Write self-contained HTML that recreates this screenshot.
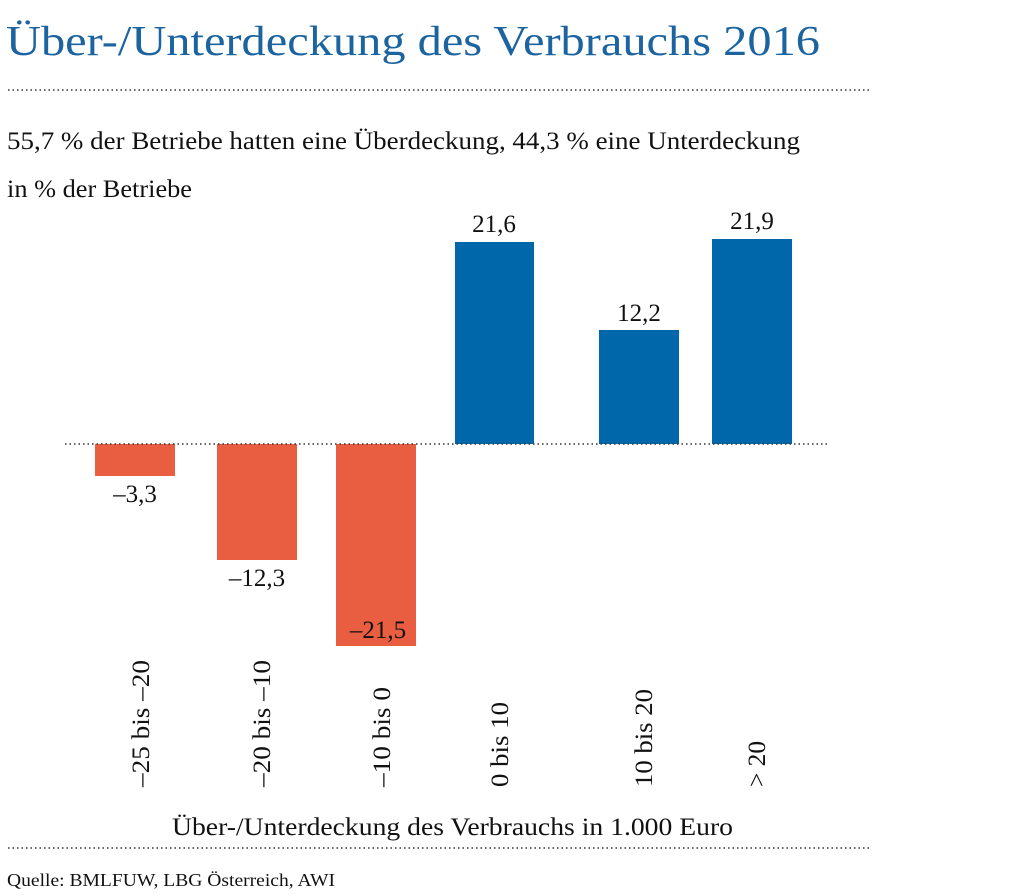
<!DOCTYPE html>
<html><head><meta charset="utf-8"><style>
html,body{margin:0;padding:0;background:#fff;}
svg{display:block;font-family:"Liberation Serif",serif;}
</style></head><body>
<svg width="1029" height="896" viewBox="0 0 1029 896" xmlns="http://www.w3.org/2000/svg">
<text x="6" y="55" font-size="42" fill="#1c64a0" textLength="814" lengthAdjust="spacingAndGlyphs">Über-/Unterdeckung des Verbrauchs 2016</text>
<line x1="8" y1="90" x2="872" y2="90" stroke="#333" stroke-width="1.5" stroke-dasharray="1.5,3"/>
<text x="7" y="149" font-size="25" fill="#111" textLength="793" lengthAdjust="spacingAndGlyphs">55,7 % der Betriebe hatten eine Überdeckung, 44,3 % eine Unterdeckung</text>
<text x="7" y="197" font-size="25" fill="#111" textLength="185" lengthAdjust="spacingAndGlyphs">in % der Betriebe</text>
<g fill="#e95e41">
<rect x="95" y="444" width="80" height="32"/>
<rect x="217" y="444" width="80" height="116"/>
<rect x="336" y="444" width="80" height="202"/>
</g>
<g fill="#0067ab">
<rect x="455" y="242" width="79" height="202"/>
<rect x="599" y="330" width="80" height="114"/>
<rect x="712" y="239" width="80" height="205"/>
</g>
<line x1="65" y1="444" x2="830" y2="444" stroke="#333" stroke-width="1.5" stroke-dasharray="1.5,3"/>
<g font-size="25" fill="#111" text-anchor="middle">
<text x="135" y="502">–3,3</text>
<text x="257" y="586">–12,3</text>
<text x="378" y="638">–21,5</text>
<text x="494" y="232">21,6</text>
<text x="639" y="321">12,2</text>
<text x="752" y="229">21,9</text>
</g>
<g font-size="25" fill="#111" text-anchor="start">
<text transform="translate(149,787) rotate(-90)" textLength="127" lengthAdjust="spacingAndGlyphs">–25 bis –20</text>
<text transform="translate(270,787) rotate(-90)" textLength="127" lengthAdjust="spacingAndGlyphs">–20 bis –10</text>
<text transform="translate(390,787) rotate(-90)" textLength="100" lengthAdjust="spacingAndGlyphs">–10 bis 0</text>
<text transform="translate(508,787) rotate(-90)" textLength="85" lengthAdjust="spacingAndGlyphs">0 bis 10</text>
<text transform="translate(652,787) rotate(-90)" textLength="98" lengthAdjust="spacingAndGlyphs">10 bis 20</text>
<text transform="translate(765,787) rotate(-90)" textLength="46" lengthAdjust="spacingAndGlyphs">&gt; 20</text>
</g>
<text x="172" y="835" font-size="25" fill="#111" textLength="561" lengthAdjust="spacingAndGlyphs">Über-/Unterdeckung des Verbrauchs in 1.000 Euro</text>
<line x1="8" y1="848" x2="872" y2="848" stroke="#333" stroke-width="1.5" stroke-dasharray="1.5,3"/>
<text x="7" y="886" font-size="18" fill="#111" textLength="328" lengthAdjust="spacingAndGlyphs">Quelle: BMLFUW, LBG Österreich, AWI</text>
</svg>
</body></html>
